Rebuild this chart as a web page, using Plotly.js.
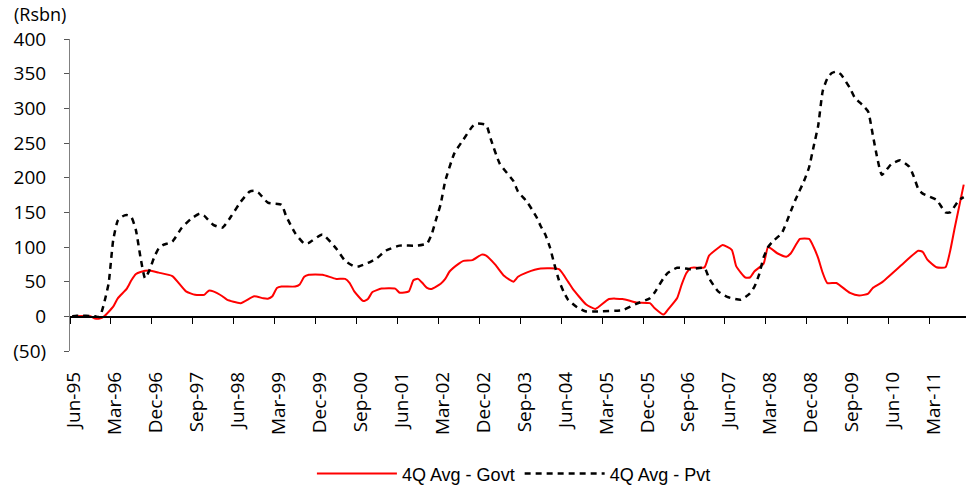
<!DOCTYPE html>
<html><head><meta charset="utf-8">
<script src="https://cdn.plot.ly/plotly-3.0.1.min.js"></script>
<style>html,body{margin:0;padding:0;background:#fff;}#chart{width:966px;height:487px;}</style>
</head><body><div id="chart"></div>
<script>
// 4Q Avg - Govt (Rsbn)
const govtMonths = ["Jun-95","Oct-95","Nov-95","Dec-95","Jan-96","Mar-96","Apr-96","Jun-96","Jul-96","Aug-96","Sep-96","Nov-96","Jan-97","Apr-97","Jul-97","Sep-97","Nov-97","Dec-97","Jan-98","Mar-98","Apr-98","Jul-98","Oct-98","Dec-98","Jan-99","Feb-99","Mar-99","Apr-99","Jul-99","Aug-99","Sep-99","Oct-99","Jan-00","Apr-00","Jun-00","Jul-00","Aug-00","Oct-00","Nov-00","Dec-00","Feb-01","May-01","Jun-01","Aug-01","Sep-01","Oct-01","Nov-01","Dec-01","Jan-02","Mar-02","Apr-02","May-02","Jul-02","Aug-02","Oct-02","Dec-02","Jan-03","Mar-03","May-03","Jul-03","Aug-03","Oct-03","Jan-04","May-04","Jul-04","Aug-04","Nov-04","Jan-05","Apr-05","Jul-05","Oct-05","Jan-06","Feb-06","Apr-06","May-06","Jul-06","Aug-06","Sep-06","Oct-06","Jan-07","Feb-07","Apr-07","May-07","Jul-07","Aug-07","Oct-07","Nov-07","Dec-07","Feb-08","Mar-08","May-08","Jul-08","Aug-08","Oct-08","Dec-08","Jan-09","Feb-09","Mar-09","Apr-09","Jun-09","Sep-09","Nov-09","Jan-10","Feb-10","Apr-10","Sep-10","Dec-10","Jan-11","Feb-11","Apr-11","Jun-11","Jul-11","Aug-11","Oct-11"];
const govtValues = [0,0,-3,-3,0,14,26,40,52,61,64,66,63,58,36,31,31,37,36,29,24,19,29,26,25.5,29,41,43,43,46,57,60,60,54,54,48,36,22,25,35,40,40,34,36,52,54,48,41,39.5,47,54,65,76,80,81,89,87.5,74.5,58,50,57,63.5,69,68,50,40,17,10.7,25,25,20,19,12,2.5,10,26.5,46,62,70,70.7,87.5,98.6,103,96,72,56,56,65,76,100,91,86,91,111.6,111.6,100,84,62.6,48,48,33.7,30,32.7,41,49,78,94.7,92.8,81.8,70.7,70.7,93.7,127,190];

// 4Q Avg - Pvt (Rsbn)
const pvtMonths = ["Jun-95","Jul-95","Nov-95","Dec-95","Jan-96","Feb-96","Mar-96","Apr-96","May-96","Jun-96","Jul-96","Aug-96","Sep-96","Oct-96","Nov-96","Dec-96","Jan-97","Feb-97","Apr-97","Jun-97","Aug-97","Oct-97","Nov-97","Jan-98","Mar-98","May-98","Jul-98","Sep-98","Oct-98","Nov-98","Jan-99","Apr-99","May-99","Jul-99","Sep-99","Oct-99","Jan-00","Apr-00","Jun-00","Aug-00","Sep-00","Nov-00","Jan-01","Mar-01","Jun-01","Oct-01","Dec-01","Jan-02","Feb-02","Mar-02","Apr-02","Jun-02","Aug-02","Oct-02","Nov-02","Jan-03","Feb-03","Apr-03","Jul-03","Aug-03","Oct-03","Dec-03","Jan-04","Feb-04","Mar-04","Apr-04","May-04","Jun-04","Jul-04","Sep-04","Nov-04","Jan-05","Jul-05","Oct-05","Jan-06","Feb-06","Apr-06","May-06","Jul-06","Oct-06","Jan-07","Feb-07","Apr-07","Jun-07","Sep-07","Nov-07","Dec-07","Jan-08","Feb-08","Mar-08","Apr-08","Jun-08","Aug-08","Sep-08","Nov-08","Dec-08","Jan-09","Feb-09","Mar-09","Apr-09","May-09","Jun-09","Jul-09","Sep-09","Oct-09","Dec-09","Jan-10","Feb-10","Mar-10","Apr-10","Jun-10","Aug-10","Oct-10","Nov-10","Dec-10","Jan-11","Apr-11","Jun-11","Jul-11","Sep-11","Oct-11"];
const pvtValues = [0,1,0,-1,19,48,110,138,144,146,143,124,85,55,67,85,98,103,108,127,140,148,145,132,128,145,165,180,181,178,164,161,145,120,105,106,118,98,80,72,72,77,84,95,102,102,105,118,140,162,195,235,255,274,278,276,256,220,195,180,165,144,130,118,100,75,52,36,24,13,7,7,9,18,26,34,55,63,70,68,70,55,36,28,24,33,43,60,85,100,108,120,152,168,197,215,245,275,325,343,351,353,349,329,316,303,295,262,228,204,219,225,216,202,184,177,168,150,150,168,172];

const tickLabels = ["Jun-95","Mar-96","Dec-96","Sep-97","Jun-98","Mar-99","Dec-99","Sep-00","Jun-01","Mar-02","Dec-02","Sep-03","Jun-04","Mar-05","Dec-05","Sep-06","Jun-07","Mar-08","Dec-08","Sep-09","Jun-10","Mar-11"];
const yTickValues = [-50,0,50,100,150,200,250,300,350,400];
const yTickLabels = ["(50)","0","50","100","150","200","250","300","350","400"];

const MON = ["Jan","Feb","Mar","Apr","May","Jun","Jul","Aug","Sep","Oct","Nov","Dec"];
function monthIndex(lbl){
  const p = lbl.split('-');
  const yy = parseInt(p[1],10);
  const year = yy < 50 ? 2000 + yy : 1900 + yy;
  return (year - 1995) * 12 + MON.indexOf(p[0]) - 5;
}

const FONT = "'Open Sans', 'Noto Sans', sans-serif";
const xr = [-0.5, 196.5];

const traces = [
  {
    name: "4Q Avg - Govt",
    x: govtMonths.map(monthIndex), y: govtValues,
    xaxis: "x", yaxis: "y",
    type: "scatter", mode: "lines",
    line: {color: "#ff0000", width: 2, shape: "spline", smoothing: 0.5}
  },
  {
    name: "4Q Avg - Pvt",
    x: pvtMonths.map(monthIndex), y: pvtValues,
    xaxis: "x2", yaxis: "y",
    type: "scatter", mode: "lines",
    line: {color: "#000000", width: 2.5, dash: "6px,5px", shape: "spline", smoothing: 0.5}
  }
];

const layout = {
  width: 966, height: 487,
  margin: {l: 70, r: 0, t: 39, b: 136, pad: 0},
  paper_bgcolor: "#fff", plot_bgcolor: "#fff",
  font: {family: FONT, size: 19, color: "#000"},
  showlegend: true,
  legend: {
    orientation: "h", xref: "container", x: 0.532, xanchor: "center",
    yref: "container", y: 0.027, yanchor: "middle",
    font: {family: "'Liberation Sans', Arial, sans-serif", size: 18, color: "#000"},
    itemwidth: 80, bgcolor: "rgba(0,0,0,0)"
  },
  xaxis: {
    range: xr, showgrid: false, zeroline: false, showline: false,
    tickmode: "array", tickvals: tickLabels.map(monthIndex), ticktext: tickLabels,
    ticks: "", tickangle: -90, ticklabelstandoff: 16, ticklabelshift: 2,
    tickfont: {family: FONT, size: 19, color: "#000"}
  },
  xaxis2: {
    overlaying: "x", anchor: "free", position: 50 / 450,
    range: xr, showgrid: false, zeroline: false,
    showline: true, linecolor: "#000", linewidth: 1.5,
    tickmode: "array", tickvals: tickLabels.map(l => monthIndex(l) - 0.5),
    ticks: "outside", ticklen: 6, tickwidth: 1, tickcolor: "#000",
    showticklabels: false
  },
  yaxis: {
    range: [-50, 400], showgrid: false, zeroline: false,
    showline: true, linecolor: "#808080", linewidth: 1,
    tickmode: "array", tickvals: yTickValues, ticktext: yTickLabels,
    ticks: "outside", ticklen: 5, tickcolor: "#555",
    ticklabelstandoff: 14,
    tickfont: {family: FONT, size: 19, color: "#000"}
  },
  annotations: [{
    text: "(Rsbn)", xref: "paper", yref: "paper",
    x: -0.065, xanchor: "left", y: 1.08, yanchor: "middle",
    showarrow: false, font: {family: FONT, size: 18, color: "#000"}
  }]
};

Plotly.newPlot("chart", traces, layout, {displayModeBar: false, staticPlot: true});
</script></body></html>
